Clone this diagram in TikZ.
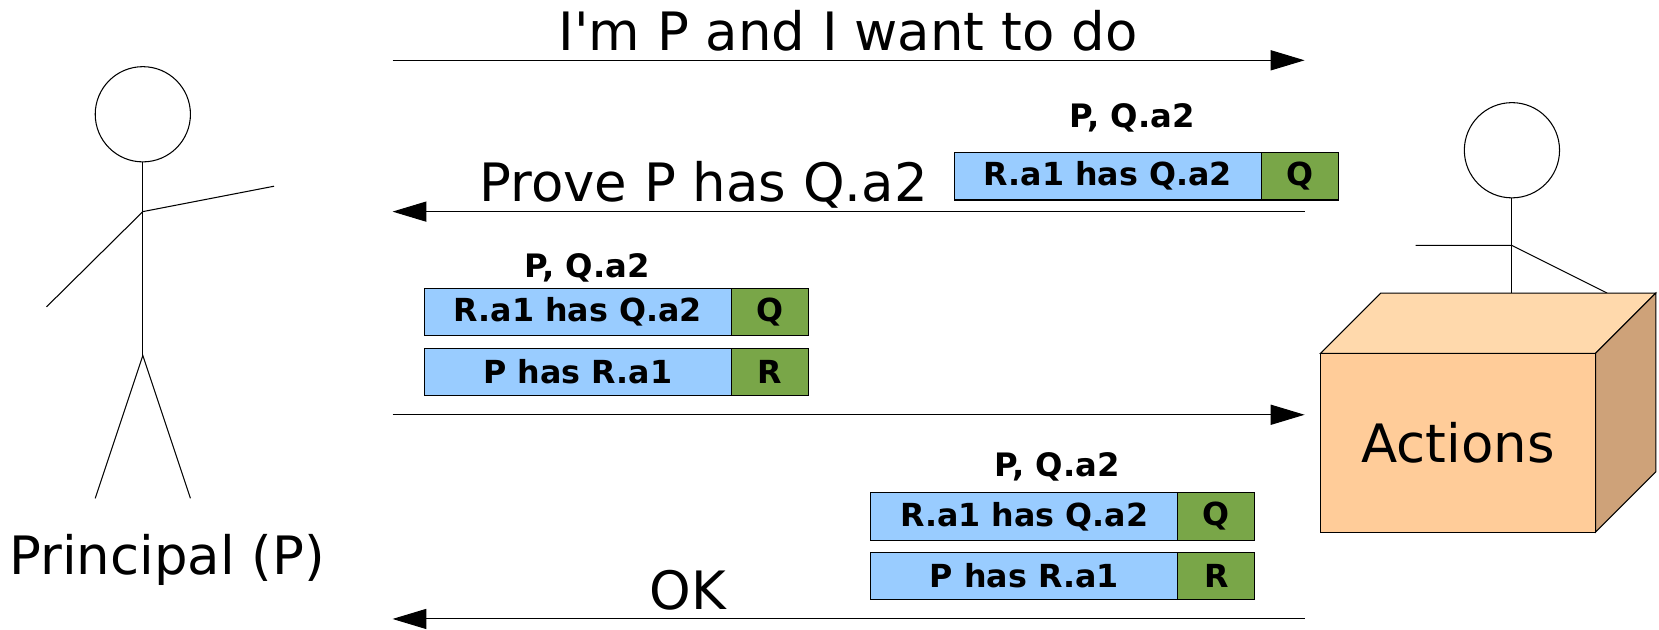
\documentclass[tikz,border=0pt]{standalone}
\usepackage{fontspec}
\setmainfont{DejaVu Sans}[Ligatures = TeXOff]
\usetikzlibrary{arrows.meta,positioning}

\definecolor{credblue}{RGB}{153,204,255}
\definecolor{issuergreen}{RGB}{121,166,72}
\definecolor{boxfront}{RGB}{255,204,153}
\definecolor{boxtop}{RGB}{255,217,172}
\definecolor{boxside}{RGB}{206,162,121}

\begin{document}
\begin{tikzpicture}
      [x = 1pt, y = -1pt,
      line width = 1pt,
      msg/.style = {-{Triangle[length = 32pt, width = 19pt]}},
      big/.style = {
         font = \fontsize{50}{60}\selectfont,
         inner sep = 0pt,
         anchor = base
      },
      small/.style = {
         font = \fontsize{30.5}{36}\selectfont\bfseries,
         inner sep = 0pt,
         anchor = base
      },
      cred/.style = {
         draw,
         fill = credblue,
         minimum width = 290pt,
         minimum height = 45pt,
         inner sep = 0pt,
         outer sep = 0pt,
         font = \fontsize{30}{36}\selectfont\bfseries
      },
      issuer/.style = {
         draw,
         fill = issuergreen,
         minimum width = 73pt,
         minimum height = 45pt,
         inner sep = 0pt,
         outer sep = 0pt,
         font = \fontsize{30}{36}\selectfont\bfseries,
         right = 0pt of #1
      }]
      \useasboundingbox (0, 0) rectangle (1568, 595);

      % principal
      \draw (135, 108) circle (45);
      \draw (135, 153) -- (135, 336);
      \draw (44, 290) -- (135, 200) -- (259, 176);
      \draw (90, 471) -- (135, 336) -- (180, 471);
      \node[big] (principal) at (158, 543) {Principal (P)};

      % guard on top of the box
      \draw (1429, 142) circle (45);
      \draw (1429, 187) -- (1429, 277);
      \draw (1338, 232) -- (1429, 232) -- (1519, 277);

      \node[draw, fill = boxfront, minimum width = 260pt, minimum height = 169pt,
         inner sep = 0pt, outer sep = 0pt, font = \fontsize{50}{60}\selectfont]
         (actions) at (1378, 418.5) {\raisebox{-4pt}{Actions}};
      \draw[fill = boxtop] (actions.north west) -- ++(57, -57) -- ++(260, 0)
         -- (actions.north east) -- cycle;
      \draw[fill = boxside] (actions.north east) -- ++(57, -57) -- ++(0, 169)
         -- (actions.south east) -- cycle;

      % message ends
      \coordinate (p1) at (371, 57);   \coordinate (a1) at (1233, 57);
      \coordinate (p2) at (371, 200);  \coordinate (a2) at (1233, 200);
      \coordinate (p3) at (371, 392);  \coordinate (a3) at (1233, 392);
      \coordinate (p4) at (371, 585);  \coordinate (a4) at (1233, 585);

      \draw[msg] (p1) -- (a1);
      \draw[msg] (a2) -- (p2);
      \draw[msg] (p3) -- (a3);
      \draw[msg] (a4) -- (p4);

      \node[big] (request) at (801.5, 48) {I'm P and I want to do};
      \node[big] (prove) at (665, 190) {Prove P has Q.a2};
      \node[big] (ok) at (650, 576) {OK};

      % credentials sent with the proof request
      \node[small] (goal1) at (1070, 120.5) {P, Q.a2};
      \node[cred] (r1) at (1047, 166.5) {R.a1 has Q.a2};
      \node[issuer = r1] (q1) {Q};

      % credentials returned by the principal
      \node[small] (goal2) at (555, 262.5) {P, Q.a2};
      \node[cred] (r2) at (546, 295) {R.a1 has Q.a2};
      \node[issuer = r2] (q2) {Q};
      \node[cred, below = 11.5pt of r2] (r3) {P has R.a1};
      \node[issuer = r3] (q3) {R};

      % credentials checked by the guard
      \node[small] (goal3) at (999, 450) {P, Q.a2};
      \node[cred] (r4) at (968, 488) {R.a1 has Q.a2};
      \node[issuer = r4] (q4) {Q};
      \node[cred, below = 11.5pt of r4] (r5) {P has R.a1};
      \node[issuer = r5] (q5) {R};

   \end{tikzpicture}
\end{document}
